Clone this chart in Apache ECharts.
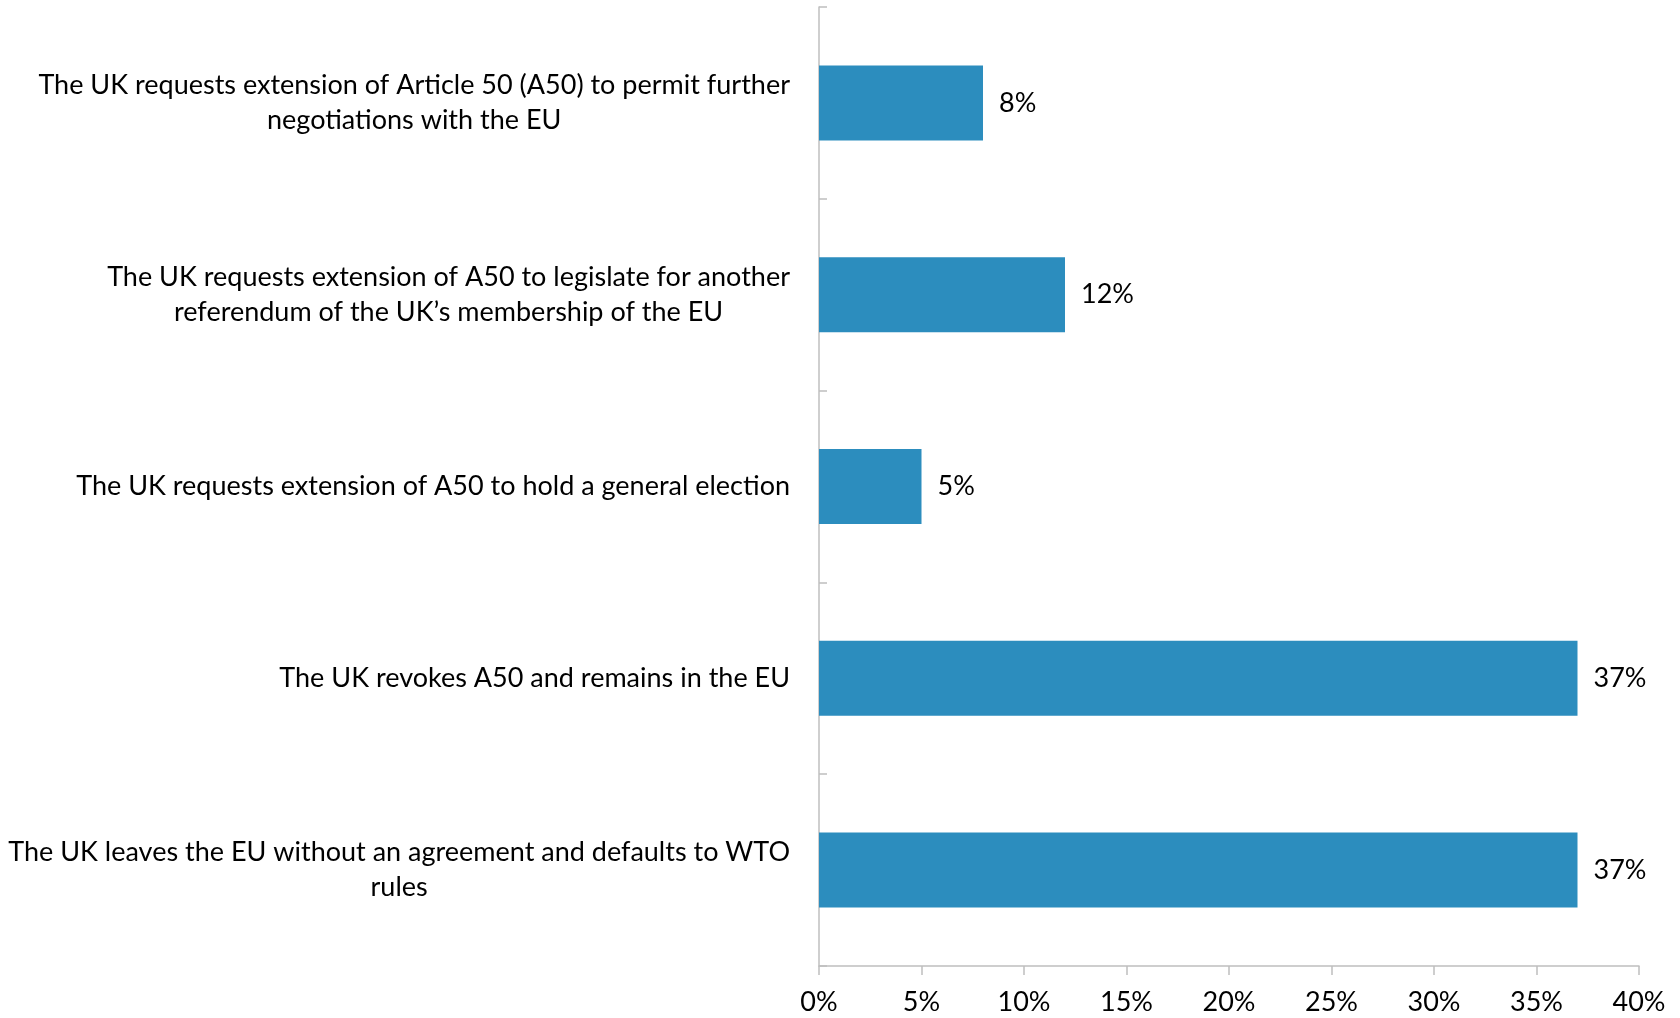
<!DOCTYPE html>
<html>
<head>
<meta charset="utf-8">
<script src="https://cdn.jsdelivr.net/npm/echarts@6/dist/echarts.min.js"></script>
<style>
  html, body { margin: 0; padding: 0; background: #ffffff; }
  #chart { width: 1680px; height: 1018px; }
</style>
</head>
<body>
<div id="chart"></div>
<script>
// Brexit outcome options, top to bottom
const categories = [
  'The UK requests extension of Article 50 (A50) to permit further\nnegotiations with the EU',
  'The UK requests extension of A50 to legislate for another\nreferendum of the UK\u2019s membership of the EU',
  'The UK requests extension of A50 to hold a general election',
  'The UK revokes A50 and remains in the EU',
  'The UK leaves the EU without an agreement and defaults to WTO\nrules'
];
// Share of respondents (%)
const shares = [8, 12, 5, 37, 37];
// Horizontal axis ticks (%)
const axisMin = 0;
const axisMax = 40;
const axisStep = 5;

const FONT = 'Lato';
const SIZE = 27;
const AXIS_GREY = '#bfbfbf';

// Each label block sits flush against the axis, with its lines centred inside it
function centredLines(text) {
  return text.split('\n').map(function (line) { return '{c|' + line + '}'; }).join('\n');
}

const chart = echarts.init(document.getElementById('chart'));
chart.setOption({
  animation: false,
  backgroundColor: '#ffffff',
  grid: { left: 819, right: 41, top: 7, bottom: 52, containLabel: false },
  xAxis: {
    type: 'value',
    min: axisMin,
    max: axisMax,
    interval: axisStep,
    axisLine: { show: true, lineStyle: { color: AXIS_GREY, width: 1.5 } },
    axisTick: { show: true, length: 9, lineStyle: { color: AXIS_GREY, width: 1.5 } },
    splitLine: { show: false },
    axisLabel: {
      formatter: '{value}%',
      color: '#000000',
      fontFamily: FONT,
      fontSize: SIZE,
      margin: 23
    }
  },
  yAxis: {
    type: 'category',
    data: categories,
    inverse: true,
    axisLine: { show: true, lineStyle: { color: AXIS_GREY, width: 1.5 } },
    axisTick: { show: true, inside: true, length: 8, lineStyle: { color: AXIS_GREY, width: 1.5 } },
    axisLabel: {
      formatter: centredLines,
      color: '#000000',
      align: 'right',
      margin: 29,
      rich: {
        c: {
          align: 'center',
          color: '#000000',
          fontFamily: FONT,
          fontSize: SIZE,
          lineHeight: 35
        }
      }
    }
  },
  series: [{
    type: 'bar',
    data: shares,
    barWidth: 75,
    itemStyle: { color: '#2C8DBE' },
    label: {
      show: true,
      position: 'right',
      distance: 16,
      formatter: '{c}%',
      color: '#000000',
      fontFamily: FONT,
      fontSize: SIZE
    }
  }]
});
</script>
</body>
</html>
